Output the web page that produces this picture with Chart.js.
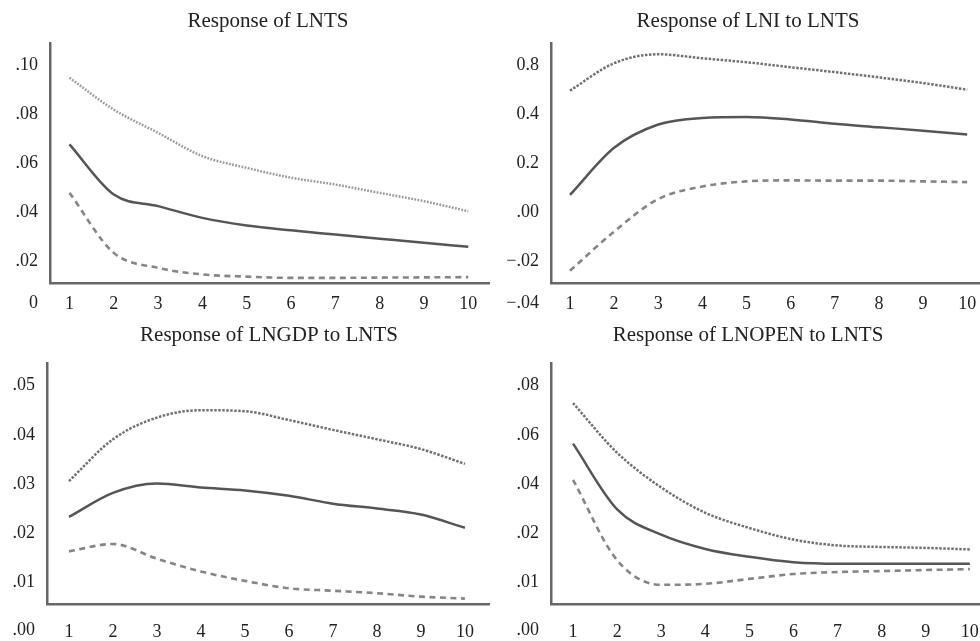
<!DOCTYPE html>
<html>
<head>
<meta charset="utf-8">
<title>Impulse responses to LNTS</title>
<script src="https://cdn.jsdelivr.net/npm/chart.js@4.4.1/dist/chart.umd.min.js"></script>
<style>
  html, body { margin: 0; padding: 0; background: #fff; }
  #wrap { position: relative; width: 980px; height: 641px; overflow: hidden; }
  .panel { position: absolute; }
</style>
</head>
<body>
<div id="wrap">
  <div class="panel" style="left:0;top:0;width:490px;height:320px"><canvas id="c1"></canvas></div>
  <div class="panel" style="left:490px;top:0;width:490px;height:320px"><canvas id="c2"></canvas></div>
  <div class="panel" style="left:0;top:320px;width:490px;height:321px"><canvas id="c3"></canvas></div>
  <div class="panel" style="left:490px;top:320px;width:490px;height:321px"><canvas id="c4"></canvas></div>
</div>
<script>
// --- periods (x axis) ---
const periods = [1, 2, 3, 4, 5, 6, 7, 8, 9, 10];

// --- y tick labels, bottom to top (bottom one sits in the x label row) ---
const ticksLNTS = ['0', '.02', '.04', '.06', '.08', '.10'];
const ticksLNI = ['\u2212.04', '\u2212.02', '.00', '0.2', '0.4', '0.8'];
const ticksLNGDP = ['.00', '.01', '.02', '.03', '.04', '.05'];
const ticksLNOPEN = ['.00', '.01', '.02', '.04', '.06', '.08'];

// numeric value of each tick label (axis is spaced evenly by label, not by value)
const tickValsLNTS = [0, 0.02, 0.04, 0.06, 0.08, 0.10];
const tickValsLNI = [-0.04, -0.02, 0, 0.2, 0.4, 0.8];
const tickValsLNGDP = [0, 0.01, 0.02, 0.03, 0.04, 0.05];
const tickValsLNOPEN = [0, 0.01, 0.02, 0.04, 0.06, 0.08];

// --- Response of LNTS ---
const lntsUpper = [0.095, 0.082, 0.0725, 0.063, 0.0582, 0.0542, 0.0514, 0.048, 0.0446, 0.0405];
const lntsResp = [0.0678, 0.0473, 0.0426, 0.0378, 0.0347, 0.0327, 0.031, 0.0293, 0.0276, 0.026];
const lntsLower = [0.048, 0.0235, 0.0174, 0.0147, 0.0138, 0.0133, 0.0133, 0.0134, 0.0135, 0.0136];

// --- Response of LNI to LNTS ---
const lniUpper = [0.595, 0.819, 0.892, 0.859, 0.827, 0.786, 0.746, 0.703, 0.657, 0.603];
const lniResp = [0.0717, 0.264, 0.359, 0.386, 0.39, 0.38, 0.362, 0.348, 0.334, 0.318];
const lniLower = [-0.0238, -0.0078, 0.055, 0.106, 0.127, 0.131, 0.13, 0.13, 0.127, 0.124];

// --- Response of LNGDP to LNTS ---
const gdpUpper = [0.0306, 0.0391, 0.0435, 0.045, 0.0448, 0.043, 0.041, 0.0391, 0.0371, 0.0341];
const gdpResp = [0.0233, 0.0282, 0.0301, 0.0293, 0.0287, 0.0276, 0.026, 0.025, 0.0238, 0.0211];
const gdpLower = [0.0163, 0.0178, 0.0148, 0.0122, 0.0103, 0.0088, 0.0083, 0.0078, 0.0071, 0.0067];

// --- Response of LNOPEN to LNTS ---
const openUpper = [0.0729, 0.0527, 0.0386, 0.0283, 0.0221, 0.0187, 0.0175, 0.0172, 0.017, 0.0167];
const openResp = [0.0564, 0.0297, 0.0197, 0.0168, 0.0152, 0.0141, 0.0138, 0.0138, 0.0138, 0.0138];
const openLower = [0.0417, 0.0145, 0.0095, 0.0097, 0.0107, 0.0117, 0.0121, 0.0123, 0.0125, 0.0127];

const FONT = "'Liberation Serif', 'DejaVu Serif', serif";
const AXIS = '#666';

// map a value onto the evenly spaced tick positions (piecewise linear)
function toPos(v, vals) {
  let i = 0;
  while (i < vals.length - 2 && v > vals[i + 1]) i++;
  return i + (v - vals[i]) / (vals[i + 1] - vals[i]);
}

// panel title + the bottom y label, which sits level with the x labels
const panelText = {
  id: 'panelText',
  afterDraw(chart, args, opts) {
    const { ctx, chartArea } = chart;
    ctx.save();
    ctx.fillStyle = '#222';
    ctx.textBaseline = 'middle';
    ctx.font = '18px ' + FONT;
    ctx.textAlign = 'right';
    ctx.fillText(opts.corner, chartArea.left - 12, opts.labelY);
    ctx.font = '21px ' + FONT;
    ctx.textAlign = 'center';
    ctx.fillText(opts.title, opts.titleX, opts.titleY);
    ctx.restore();
  },
};

function makePanel(id, cfg) {
  const mk = (arr) => periods.map((p, i) => ({ x: p, y: toPos(arr[i], cfg.tickVals) }));
  new Chart(document.getElementById(id), {
    type: 'line',
    data: {
      datasets: [
        {
          data: mk(cfg.upper),
          borderColor: cfg.upperColor || '#707070',
          borderWidth: 2.5,
          borderDash: cfg.upperDash || [2.5, 1.5],
        },
        { data: mk(cfg.resp), borderColor: '#555', borderWidth: 2.5 },
        { data: mk(cfg.lower), borderColor: '#858585', borderWidth: 2.6, borderDash: [6, 4.5] },
      ],
    },
    options: {
      responsive: true,
      maintainAspectRatio: false,
      animation: false,
      events: [],
      elements: { point: { radius: 0 }, line: { cubicInterpolationMode: 'monotone' } },
      layout: { padding: { top: 43 } },
      plugins: {
        legend: { display: false },
        tooltip: { enabled: false },
        title: { display: false },
        panelText: {
          title: cfg.title, titleX: cfg.titleX, titleY: cfg.titleY,
          corner: cfg.ticks[0], labelY: cfg.labelY,
        },
      },
      scales: {
        x: {
          type: 'linear',
          min: cfg.xMin,
          max: cfg.xMax,
          afterFit: (s) => {
            s.height = cfg.xHeight;
            s.paddingLeft = 0;
            s.paddingRight = 0;
          },
          afterBuildTicks: (s) => { s.ticks = periods.map((p) => ({ value: p })); },
          grid: { display: false, drawTicks: false },
          border: { color: AXIS, width: 2.5 },
          ticks: {
            color: '#222',
            padding: cfg.labelY - 283 - 10,
            font: { family: FONT, size: 18 },
            maxRotation: 0,
            autoSkip: false,
          },
        },
        y: {
          type: 'linear',
          min: 0.56,
          max: 5.46,
          afterFit: (s) => { s.width = cfg.yWidth; },
          afterBuildTicks: (s) => { s.ticks = [1, 2, 3, 4, 5].map((v) => ({ value: v })); },
          grid: { display: false, drawTicks: false },
          border: { color: AXIS, width: 2.5 },
          ticks: {
            color: '#222',
            padding: 12,
            font: { family: FONT, size: 18 },
            callback: (v) => cfg.ticks[v],
          },
        },
      },
    },
    plugins: [panelText],
  });
}

makePanel('c1', {
  title: 'Response of LNTS', ticks: ticksLNTS, tickVals: tickValsLNTS,
  upper: lntsUpper, resp: lntsResp, lower: lntsLower,
  upperColor: '#9a9a9a', upperDash: [1.8, 1.4],
  titleX: 268, titleY: 21, xHeight: 37, labelY: 303, yWidth: 50, xMin: 0.56, xMax: 10.49,
});
makePanel('c2', {
  title: 'Response of LNI to LNTS', ticks: ticksLNI, tickVals: tickValsLNI,
  upper: lniUpper, resp: lniResp, lower: lniLower,
  titleX: 258, titleY: 21, xHeight: 37, labelY: 303, yWidth: 61, xMin: 0.57, xMax: 10.29,
});
makePanel('c3', {
  title: 'Response of LNGDP to LNTS', ticks: ticksLNGDP, tickVals: tickValsLNGDP,
  upper: gdpUpper, resp: gdpResp, lower: gdpLower,
  titleX: 269, titleY: 15, xHeight: 37, labelY: 310, yWidth: 47, xMin: 0.5, xMax: 10.57,
});
makePanel('c4', {
  title: 'Response of LNOPEN to LNTS', ticks: ticksLNOPEN, tickVals: tickValsLNOPEN,
  upper: openUpper, resp: openResp, lower: openLower,
  titleX: 258, titleY: 15, xHeight: 37, labelY: 310, yWidth: 61, xMin: 0.5, xMax: 10.23,
});
</script>
</body>
</html>
